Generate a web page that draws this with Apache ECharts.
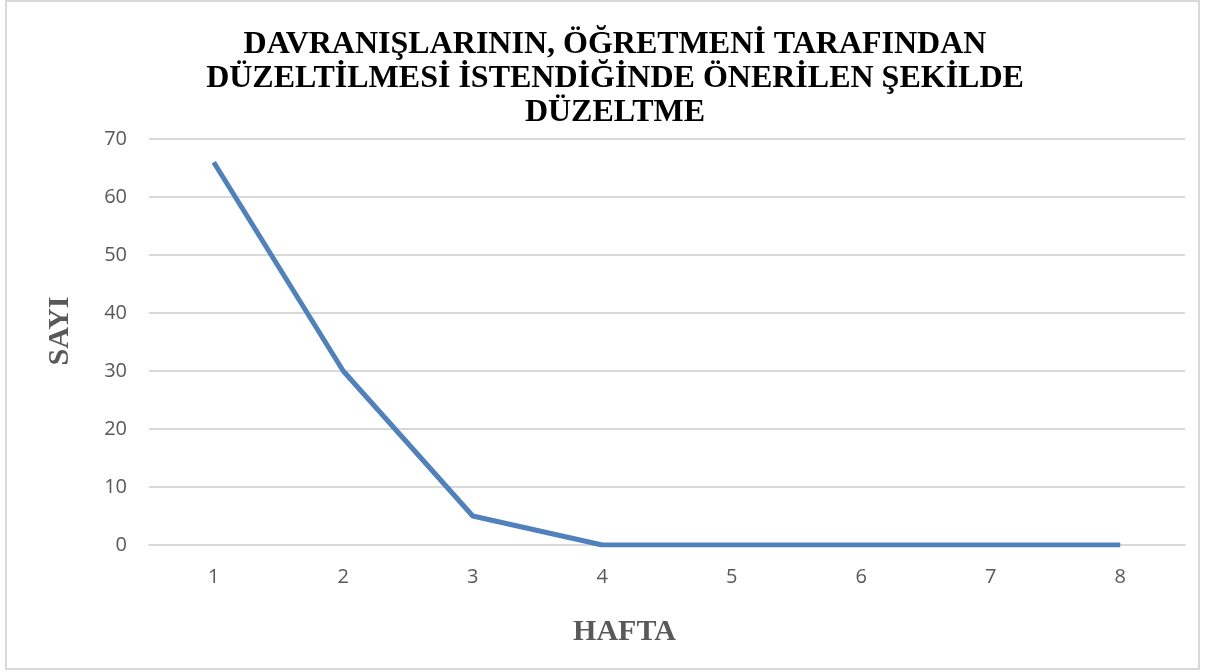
<!DOCTYPE html>
<html>
<head>
<meta charset="utf-8">
<script src="https://cdn.jsdelivr.net/npm/echarts@6/dist/echarts.min.js"></script>
<style>
  html, body { margin: 0; padding: 0; background: #fff; }
  #chart { width: 1211px; height: 672px; }
</style>
</head>
<body>
<div id="chart"></div>
<script>
// data
var weeks = ['1', '2', '3', '4', '5', '6', '7', '8'];
var counts = [66, 30, 5, 0, 0, 0, 0, 0];
var titleLines = [
  'DAVRANIŞLARININ, ÖĞRETMENİ TARAFINDAN',
  'DÜZELTİLMESİ İSTENDİĞİNDE ÖNERİLEN ŞEKİLDE',
  'DÜZELTME'
];

var myChart = echarts.init(document.getElementById('chart'));

var option = {
  backgroundColor: '#fff',
  animation: false,
  graphic: [{
    type: 'rect',
    shape: { x: 6, y: 1, width: 1193, height: 668 },
    style: { fill: 'none', stroke: '#d9d9d9', lineWidth: 2 },
    silent: true
  }],
  title: {
    text: titleLines.join('\n'),
    left: 610,
    textAlign: 'center',
    top: 23,
    textStyle: {
      fontFamily: 'Liberation Serif',
      fontWeight: 'bold',
      fontSize: 32,
      lineHeight: 34,
      color: '#000'
    }
  },
  grid: {
    left: 149,
    right: 26,
    top: 139,
    bottom: 127
  },
  xAxis: {
    type: 'category',
    data: weeks,
    boundaryGap: true,
    name: 'HAFTA',
    nameLocation: 'middle',
    nameGap: 72,
    nameTextStyle: {
      fontFamily: 'Liberation Serif',
      fontWeight: 'bold',
      fontSize: 30,
      color: '#595959',
      padding: [0, 85, 0, 0]
    },
    axisLine: { lineStyle: { color: '#d9d9d9', width: 2 } },
    axisTick: { show: false },
    axisLabel: {
      margin: 22,
      fontFamily: 'Open Sans',
      fontSize: 20,
      color: '#595959'
    }
  },
  yAxis: {
    type: 'value',
    min: 0,
    max: 70,
    interval: 10,
    name: 'SAYI',
    nameLocation: 'middle',
    nameRotate: 90,
    nameGap: 74,
    nameTextStyle: {
      fontFamily: 'Liberation Serif',
      fontWeight: 'bold',
      fontSize: 30,
      color: '#595959',
      padding: [0, 0, 0, 22]
    },
    axisLine: { show: false },
    axisTick: { show: false },
    axisLabel: {
      margin: 22,
      fontFamily: 'Open Sans',
      fontSize: 20,
      color: '#595959'
    },
    splitLine: { lineStyle: { color: '#d9d9d9', width: 2 } }
  },
  series: [{
    type: 'line',
    data: counts,
    symbol: 'none',
    lineStyle: { color: '#4f81bd', width: 5 },
    itemStyle: { color: '#4f81bd' }
  }]
};

myChart.setOption(option);
</script>
</body>
</html>
